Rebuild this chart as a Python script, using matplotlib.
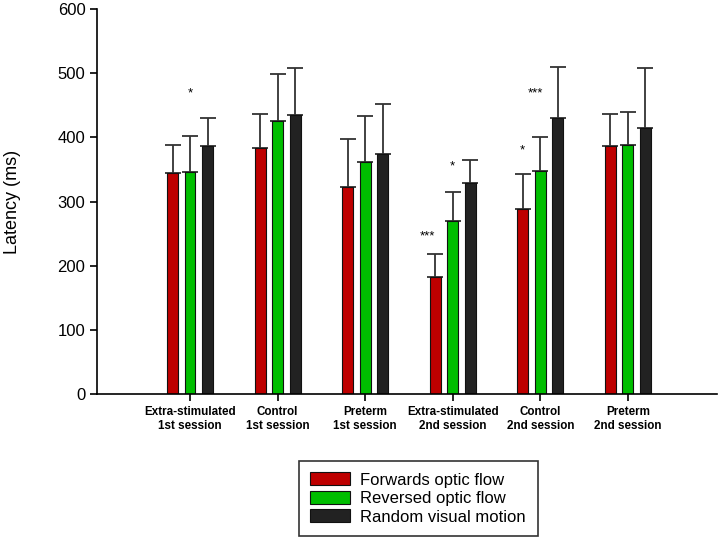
import numpy as np
import matplotlib.pyplot as plt

plt.rcParams['font.family'] = ['Liberation Sans', 'DejaVu Sans']

groups = ['Extra-stimulated\n1st session', 'Control\n1st session', 'Preterm\n1st session',
          'Extra-stimulated\n2nd session', 'Control\n2nd session', 'Preterm\n2nd session']
series = ['Forwards optic flow', 'Reversed optic flow', 'Random visual motion']
colors = ['#BE0000', '#00BE00', '#222222']

forwards = [344, 383, 323, 183, 289, 387]
forwards_err = [45, 54, 74, 35, 54, 49]
reversed_ = [346, 426, 362, 270, 348, 388]
reversed_err = [57, 73, 71, 45, 53, 51]
random_ = [387, 435, 374, 329, 430, 415]
random_err = [43, 73, 78, 36, 80, 93]

# significance marks: (group, series, y, text)
stars = [(0, 1, 460, '*'), (3, -0.45, 237, '***'), (3, 1, 345, '*'),
         (4, 0, 370, '*'), (4, 0.75, 460, '***')]

values = [forwards, reversed_, random_]
errors = [forwards_err, reversed_err, random_err]

fig = plt.figure(figsize=(7.2, 5.4), dpi=100)
ax = fig.add_axes([0.135, 0.2704, 0.861, 0.7126])

x = np.arange(1, len(groups) + 1)
offset = 0.2
width = 0.125
for i, (vals, errs) in enumerate(zip(values, errors)):
    pos = x + (i - 1) * offset
    ax.bar(pos, vals, width, color=colors[i], edgecolor='#111111', linewidth=0.8,
           label=series[i], zorder=2)
    ax.errorbar(pos, vals, yerr=[np.zeros(len(errs)), errs], fmt='none',
                ecolor='#333333', elinewidth=1.3, capsize=5.5, capthick=1.3, zorder=1)

for g, s, y, t in stars:
    ax.text(x[g] + (s - 1) * offset, y, t, ha='center', va='bottom', fontsize=9.5)

ax.set_xlim(-0.06, 7.02)
ax.set_ylim(0, 600)
ax.set_yticks(range(0, 601, 100))
ax.set_xticks(x)
ax.set_xticklabels(groups, fontsize=8.4, fontweight='bold', linespacing=1.3)
ax.tick_params(axis='y', labelsize=12, direction='out', length=5, width=1.2)
ax.tick_params(axis='x', direction='out', length=5, width=1.2, pad=3.5)
ax.set_ylabel('Latency (ms)', fontsize=13, labelpad=26)
for side in ['top', 'right']:
    ax.spines[side].set_visible(False)
for side in ['left', 'bottom']:
    ax.spines[side].set_linewidth(1.2)

leg = fig.legend(loc='lower left', bbox_to_anchor=(0.415, 0.007), fontsize=12,
                 fancybox=False, edgecolor='#333333', framealpha=1,
                 handlelength=2.4, handleheight=0.8, labelspacing=0.2,
                 borderpad=0.7, handletextpad=0.6, borderaxespad=0)
leg.get_frame().set_linewidth(1.2)

plt.savefig('out.png', dpi=100)
